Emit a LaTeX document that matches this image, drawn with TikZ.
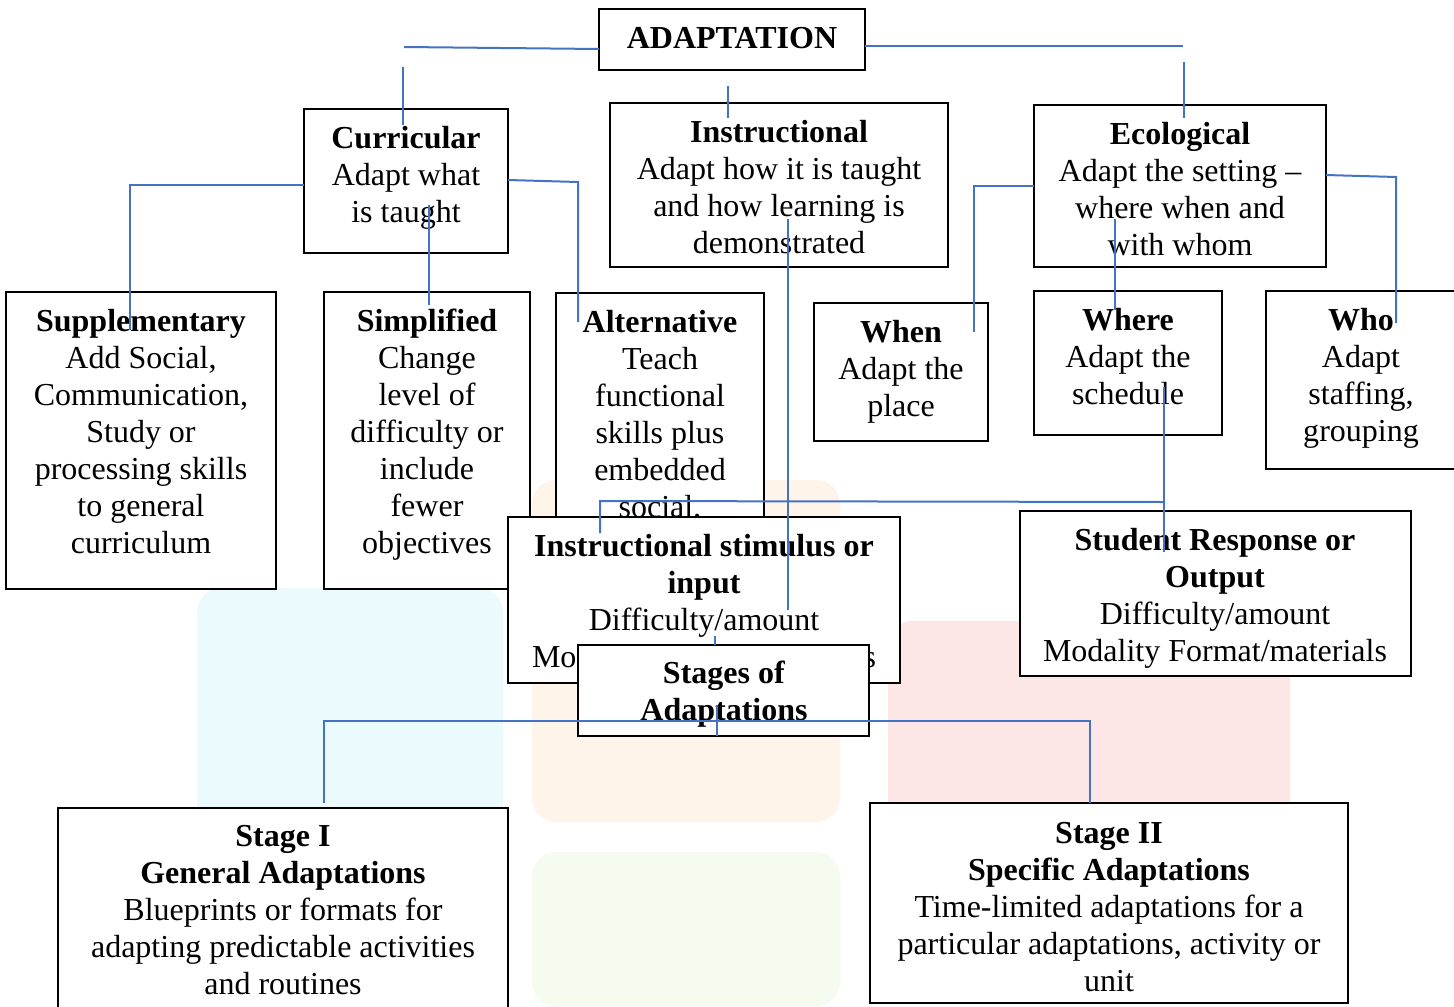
\documentclass[tikz,border=0pt]{standalone}
\usepackage{fontspec}
\setmainfont{Liberation Serif}
\definecolor{cblue}{HTML}{4472C4}
\definecolor{wmcyan}{HTML}{EBFAFC}
\definecolor{wmorange}{HTML}{FEF4EA}
\definecolor{wmred}{HTML}{FCE6E6}
\definecolor{wmgreen}{HTML}{F5FBEF}
\newcommand\bx[5]{\node[boxst, minimum width={(#4-#2)*0.5pt}, minimum height={(#5-#3)*0.5pt}] (#1) at (#2,#3) {};}
\newcommand\tx[4]{\node[txtst] (#1) at (#2,#3-25.9) {\strut #4};}
\begin{document}
\begin{tikzpicture}[x=0.5pt,y=-0.5pt,
  boxst/.style={draw=black, line width=0.6pt, fill=white, inner sep=0pt, outer sep=0pt, anchor=north west},
  txtst/.style={align=center, inner sep=0pt, anchor=north, font=\fontsize{16}{18.5}\selectfont},
  conn/.style={draw=cblue, line width=1pt},
  wm/.style={draw=none, rounded corners=12pt}]
\useasboundingbox (0,0) rectangle (1454,1006);
\fill[white] (0,0) rectangle (1454,1006);
% faint watermark
\fill[wm, fill=wmcyan] (197,588) rectangle (503,1006);
\fill[wm, fill=wmorange] (532,480) rectangle (840,822);
\fill[wm, fill=wmgreen] (532,852) rectangle (840,1006);
\fill[wm, fill=wmred] (888,621) rectangle (1290,950);
% top level
\bx{adapt}{599}{9}{865}{70}
\tx{adaptT}{732}{48}{\textbf{ADAPTATION}}
\bx{curr}{304}{109}{508}{253}
\tx{currT}{406}{148}{\textbf{Curricular}\\Adapt what\\is taught}
\bx{instr}{610}{103}{948}{267}
\tx{instrT}{779}{142}{\textbf{Instructional}\\Adapt how it is taught\\and how learning is\\demonstrated}
\bx{eco}{1034}{105}{1326}{267}
\tx{ecoT}{1180}{144}{\textbf{Ecological}\\Adapt the setting --\\where when and\\with whom}
% second level
\bx{supp}{6}{292}{276}{589}
\tx{suppT}{141}{331}{\textbf{Supplementary}\\Add Social,\\Communication,\\Study or\\processing skills\\to general\\curriculum}
\bx{simp}{324}{292}{530}{589}
\tx{simpT}{427}{331}{\textbf{Simplified}\\Change\\level of\\difficulty or\\include\\fewer\\objectives}
\bx{alt}{556}{293}{764}{589}
\tx{altT}{660}{332}{\textbf{Alternative}\\Teach\\functional\\skills plus\\embedded\\social,}
\bx{when}{814}{303}{988}{441}
\tx{whenT}{901}{342}{\textbf{When}\\Adapt the\\place}
\bx{where}{1034}{291}{1222}{435}
\tx{whereT}{1128}{330}{\textbf{Where}\\Adapt the\\schedule}
\bx{who}{1266}{291}{1460}{469}
\tx{whoT}{1361}{330}{\textbf{Who}\\Adapt\\staffing,\\grouping}
% third level
\bx{stim}{508}{517}{900}{683}
\tx{stimT}{704}{556}{\textbf{Instructional stimulus or}\\\textbf{input}\\Difficulty/amount\\Modality Format/materials}
\bx{resp}{1020}{511}{1411}{676}
\tx{respT}{1215}{550}{\textbf{Student Response or}\\\textbf{Output}\\Difficulty/amount\\Modality Format/materials}
\bx{stages}{578}{645}{869}{736}
\tx{stagesT}{724}{683}{\textbf{Stages of}\\\textbf{Adaptations}}
\bx{stageA}{58}{808}{508}{1012}
\tx{stageAT}{283}{846}{\textbf{Stage I}\\\textbf{General Adaptations}\\Blueprints or formats for\\adapting predictable activities\\and routines}
\bx{stageB}{870}{803}{1348}{1003}
\tx{stageBT}{1109}{843}{\textbf{Stage II}\\\textbf{Specific Adaptations}\\Time-limited adaptations for a\\particular adaptations, activity or\\unit}
% connector end points
\coordinate (c1a) at (599,49); \coordinate (c1b) at (404,47);
\coordinate (c2a) at (403,67); \coordinate (c2b) at (403,125);
\coordinate (c3a) at (865,46); \coordinate (c3b) at (1183,46);
\coordinate (c4a) at (1184,62); \coordinate (c4b) at (1184,118);
\coordinate (c5a) at (728,86); \coordinate (c5b) at (728,118);
\coordinate (c6a) at (304,185); \coordinate (c6b) at (130,185); \coordinate (c6c) at (130,330);
\coordinate (c7a) at (429,205); \coordinate (c7b) at (429,305);
\coordinate (c8a) at (508,180); \coordinate (c8b) at (578,182); \coordinate (c8c) at (578,322);
\coordinate (c9a) at (788,219); \coordinate (c9b) at (788,610);
\coordinate (c10a) at (1034,186); \coordinate (c10b) at (974,186); \coordinate (c10c) at (974,332);
\coordinate (c11a) at (1115,219); \coordinate (c11b) at (1115,310);
\coordinate (c12a) at (1326,175); \coordinate (c12b) at (1396,177); \coordinate (c12c) at (1396,323);
\coordinate (c13a) at (1164,387); \coordinate (c13b) at (1164,552);
\coordinate (c14a) at (1164,502); \coordinate (c14b) at (600,501); \coordinate (c14c) at (600,533);
\coordinate (c15a) at (715,636); \coordinate (c15b) at (715,645);
\coordinate (c16a) at (717,705); \coordinate (c16b) at (717,736);
\coordinate (c17a) at (324,803); \coordinate (c17b) at (324,721); \coordinate (c17c) at (1090,721); \coordinate (c17d) at (1090,803);
% connectors
\draw[conn] (c1a) -- (c1b);
\draw[conn] (c2a) -- (c2b);
\draw[conn] (c3a) -- (c3b);
\draw[conn] (c4a) -- (c4b);
\draw[conn] (c5a) -- (c5b);
\draw[conn] (c6a) -- (c6b) -- (c6c);
\draw[conn] (c7a) -- (c7b);
\draw[conn] (c8a) -- (c8b) -- (c8c);
\draw[conn] (c9a) -- (c9b);
\draw[conn] (c10a) -- (c10b) -- (c10c);
\draw[conn] (c11a) -- (c11b);
\draw[conn] (c12a) -- (c12b) -- (c12c);
\draw[conn] (c13a) -- (c13b);
\draw[conn] (c14a) -- (c14b) -- (c14c);
\draw[conn] (c15a) -- (c15b);
\draw[conn] (c16a) -- (c16b);
\draw[conn] (c17a) -- (c17b) -- (c17c) -- (c17d);
\end{tikzpicture}
\end{document}
